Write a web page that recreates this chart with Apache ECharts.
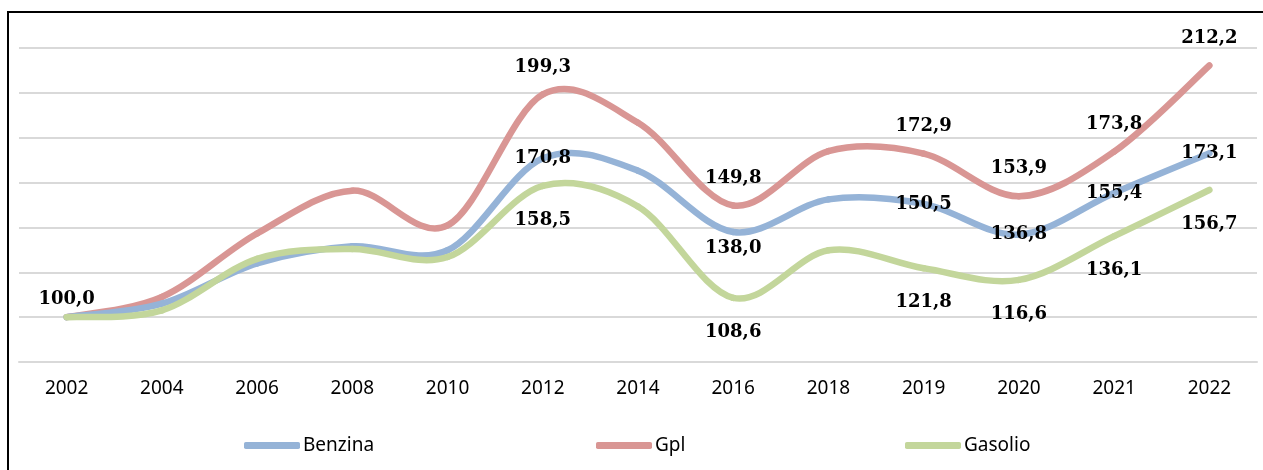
<!DOCTYPE html>
<html>
<head>
<meta charset="utf-8">
<script src="https://cdn.jsdelivr.net/npm/echarts@6/dist/echarts.min.js"></script>
<style>
html,body{margin:0;padding:0;background:#fff;}
#c{width:1263px;height:470px;}
</style>
</head>
<body>
<div id="c"></div>
<script>
var categories = ['2002','2004','2006','2008','2010','2012','2014','2016','2018','2019','2020','2021','2022'];
var benzina = [100.0, 106.0, 124.0, 131.6, 129.8, 170.8, 165.3, 138.0, 152.5, 150.5, 136.8, 155.4, 173.1];
var gpl     = [100.0, 109.0, 137.3, 156.4, 140.9, 199.3, 186.7, 149.8, 174.0, 172.9, 153.9, 173.8, 212.2];
var gasolio = [100.0, 103.0, 126.0, 130.4, 126.8, 158.5, 149.3, 108.6, 129.8, 121.8, 116.6, 136.1, 156.7];
var seriesNames = ['Benzina','Gpl','Gasolio'];
// which points carry a value label
var benzinaLabelled = ['2002','2012','2016','2019','2020','2021','2022'];
var gplLabelled     = ['2012','2016','2019','2020','2021','2022'];
var gasolioLabelled = ['2012','2016','2019','2020','2021','2022'];

var colors = {Benzina:'#95B3D7', Gpl:'#D99694', Gasolio:'#C3D69B'};
var labelFont = {fontFamily:'DejaVu Serif', fontWeight:'bold', fontSize:18, color:'#000', lineHeight:20};

function fmt(v){ return v.toFixed(1).replace('.', ','); }

var benzinaLabelStyle = {
  '2002': {position:'top', distance:7},
  '2012': {position:'inside', offset:[8,-3]},
  '2016': {position:'bottom', distance:6},
  '2019': {position:'inside', offset:[4,2]},
  '2020': {position:'inside', offset:[14,2]},
  '2021': {position:'inside', offset:[2,3]},
  '2022': {position:'inside', offset:[3,2]}
};

function build(values, labelled, baseLabel, perPoint){
  return values.map(function(v, i){
    var cat = categories[i];
    var item = {value: v};
    if (labelled.indexOf(cat) >= 0) {
      item.label = Object.assign({show:true, formatter: fmt(v)}, labelFont, baseLabel, (perPoint && perPoint[cat]) || {});
    }
    return item;
  });
}

// Smooth curve (Excel-like cardinal spline) drawn through the axis scales
function curveSeries(name, values, z){
  return {
    name: name,
    type: 'custom',
    coordinateSystem: 'cartesian2d',
    data: [[0, values[0]]],
    itemStyle: {color: colors[name]},
    z: z,
    silent: true,
    renderItem: function(params, api){
      var pts = values.map(function(v, i){ return api.coord([i, v]); });
      var t = 1/6;
      var children = [];
      for (var i = 0; i < pts.length - 1; i++){
        var p0 = pts[Math.max(i-1,0)], p1 = pts[i], p2 = pts[i+1], p3 = pts[Math.min(i+2, pts.length-1)];
        children.push({
          type: 'bezierCurve',
          shape: {
            x1: p1[0], y1: p1[1], x2: p2[0], y2: p2[1],
            cpx1: p1[0] + (p2[0]-p0[0])*t, cpy1: p1[1] + (p2[1]-p0[1])*t,
            cpx2: p2[0] - (p3[0]-p1[0])*t, cpy2: p2[1] - (p3[1]-p1[1])*t
          },
          style: {stroke: colors[name], lineWidth: 6.5, fill: null, lineCap: 'round'}
        });
      }
      return {type: 'group', children: children};
    }
  };
}

function labelSeries(name, values, labelled, baseLabel, perPoint){
  return {
    name: name + ' labels',
    type: 'line',
    symbol: 'circle',
    symbolSize: 1,
    showSymbol: true,
    data: build(values, labelled, baseLabel, perPoint),
    lineStyle: {opacity: 0, width: 0},
    itemStyle: {color: 'rgba(0,0,0,0)'},
    label: {show:false},
    labelLayout: {hideOverlap:false},
    silent: true,
    z: 10
  };
}

function mkLegend(name, left){
  return {
    data: [{name: name, icon: 'roundRect', itemStyle: {color: colors[name]}}],
    left: left,
    top: 431,
    itemWidth: 56,
    itemHeight: 7,
    itemGap: 0,
    textStyle: {fontFamily:'Noto Sans', fontSize:19, color:'#000', padding:[0,0,0,-2]},
    selectedMode: false
  };
}

var chart = echarts.init(document.getElementById('c'), null, {renderer:'canvas'});

var option = {
  animation: false,
  backgroundColor: '#fff',
  graphic: [{
    type: 'rect',
    shape: {x: 8, y: 12, width: 1270, height: 480},
    style: {fill: 'none', stroke: '#000', lineWidth: 2},
    silent: true
  }],
  legend: [mkLegend('Benzina', 239), mkLegend('Gpl', 591), mkLegend('Gasolio', 900)],
  grid: {left: 19, right: 6, top: 48, bottom: 108, containLabel: false},
  xAxis: {
    type: 'category',
    data: categories,
    boundaryGap: true,
    axisLine: {show: true, lineStyle: {color: '#D9D9D9', width: 2}},
    axisTick: {show: false},
    axisLabel: {fontFamily:'Noto Sans', fontSize:19, color:'#000', margin:17}
  },
  yAxis: {
    type: 'value',
    min: 80, max: 220, interval: 20,
    axisLine: {show: false},
    axisTick: {show: false},
    axisLabel: {show: false},
    splitLine: {lineStyle: {color: '#D9D9D9', width: 2}}
  },
  series: [
    curveSeries('Gpl', gpl, 2),
    curveSeries('Benzina', benzina, 3),
    curveSeries('Gasolio', gasolio, 4),
    labelSeries('Benzina', benzina, benzinaLabelled, {}, benzinaLabelStyle),
    labelSeries('Gpl', gpl, gplLabelled, {position:'top', distance:17}, null),
    labelSeries('Gasolio', gasolio, gasolioLabelled, {position:'bottom', distance:24}, null)
  ]
};
chart.setOption(option);
</script>
</body>
</html>
